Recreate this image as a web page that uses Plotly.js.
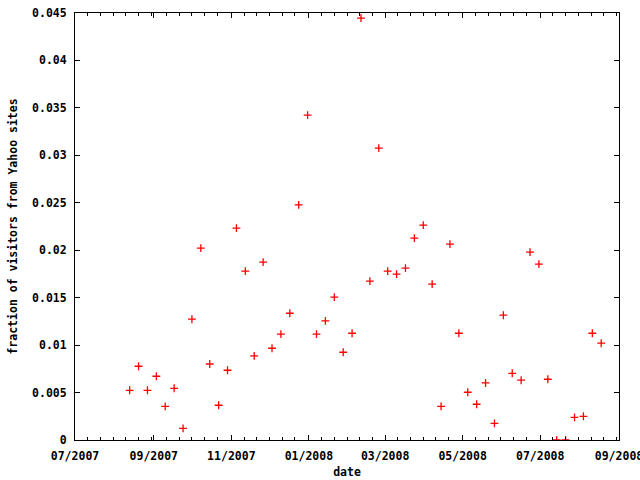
<!DOCTYPE html>
<html>
<head>
<meta charset="utf-8">
<script src="https://cdn.plot.ly/plotly-3.0.1.min.js"></script>
<style>html,body{margin:0;padding:0;background:#fff;}#chart{width:640px;height:480px;}</style>
</head>
<body>
<div id="chart"></div>
<script>
// Weekly observations
var dates = [
  '2007-08-13','2007-08-20','2007-08-27','2007-09-03','2007-09-10','2007-09-17','2007-09-24',
  '2007-10-01','2007-10-08','2007-10-15','2007-10-22','2007-10-29',
  '2007-11-05','2007-11-12','2007-11-19','2007-11-26',
  '2007-12-03','2007-12-10','2007-12-17','2007-12-24','2007-12-31',
  '2008-01-07','2008-01-14','2008-01-21','2008-01-28',
  '2008-02-04','2008-02-11','2008-02-18','2008-02-25',
  '2008-03-03','2008-03-10','2008-03-17','2008-03-24','2008-03-31',
  '2008-04-07','2008-04-14','2008-04-21','2008-04-28',
  '2008-05-05','2008-05-12','2008-05-19','2008-05-26',
  '2008-06-02','2008-06-09','2008-06-16','2008-06-23','2008-06-30',
  '2008-07-07','2008-07-14','2008-07-21','2008-07-28',
  '2008-08-04','2008-08-11','2008-08-18'
];
var fractionYahoo = [
  0.00524, 0.00777, 0.00524, 0.00672, 0.00355, 0.00545, 0.00123,
  0.01273, 0.02022, 0.00801, 0.00366, 0.00735,
  0.02233, 0.01779, 0.00886, 0.01874,
  0.00967, 0.01115, 0.01336, 0.02478, 0.03424,
  0.01115, 0.01255, 0.01505, 0.00925,
  0.01125, 0.04447, 0.01674, 0.03076,
  0.01779, 0.01748, 0.01811, 0.02127, 0.02264,
  0.01642, 0.00355, 0.02064, 0.01125,
  0.00503, 0.00377, 0.00601, 0.00176,
  0.01315, 0.00703, 0.00630, 0.01980, 0.01853,
  0.00640, 0.00000, 0.00000, 0.00239,
  0.00250, 0.01125, 0.01020
];
var xTickVals = ['2007-07-01','2007-09-01','2007-11-01','2008-01-01','2008-03-01','2008-05-01','2008-07-01','2008-09-01'];
var xTickText = ['07/2007','09/2007','11/2007','01/2008','03/2008','05/2008','07/2008','09/2008'];
var xRange = ['2007-07-01','2008-09-01 00:01'];
var yRange = [0, 0.045];
var yTickStep = 0.005;

// minor ticks: every 10 days after each major tick
var minorVals = [];
for (var i = 0; i < xTickVals.length - 1; i++) {
  var start = new Date(xTickVals[i] + 'T00:00:00Z').getTime();
  var end = new Date(xTickVals[i + 1] + 'T00:00:00Z').getTime();
  for (var k = 1; k < 7; k++) {
    var t = start + k * 10 * 86400000;
    if (t < end - 86400000) minorVals.push(new Date(t).toISOString().slice(0, 10));
  }
}

var boldFont = {family: 'DejaVu Sans Mono, monospace', size: 11.5, color: '#000', weight: 'bold'};

var trace = {
  x: dates, y: fractionYahoo, type: 'scatter', mode: 'markers',
  marker: {symbol: 'cross-thin-open', size: 5.6, color: '#ff0000', line: {color: '#ff0000', width: 1.3}},
  hoverinfo: 'skip', showlegend: false
};
var dummy = {x: xRange, y: yRange, xaxis: 'x2', yaxis: 'y', mode: 'none', type: 'scatter', showlegend: false, hoverinfo: 'skip'};

var layout = {
  width: 640, height: 480,
  margin: {l: 75, r: 21, t: 13, b: 40},
  paper_bgcolor: '#fff', plot_bgcolor: '#fff',
  font: boldFont,
  xaxis: {
    type: 'date', range: xRange, tickmode: 'array', tickvals: xTickVals, ticktext: xTickText,
    ticks: 'inside', ticklen: 5, tickwidth: 1, tickcolor: '#000', ticklabelstandoff: 5,
    ticklabeloverflow: 'allow',
    showline: true, linecolor: '#000', linewidth: 1, mirror: 'ticks',
    showgrid: false, zeroline: false, tickfont: boldFont,
    title: {text: 'date', font: boldFont, standoff: 6}
  },
  xaxis2: {
    type: 'date', range: xRange, overlaying: 'x', tickmode: 'array', tickvals: minorVals,
    ticks: 'inside', ticklen: 3, tickwidth: 1, tickcolor: '#000',
    showticklabels: false, showline: false, mirror: 'ticks', showgrid: false, zeroline: false
  },
  yaxis: {
    range: yRange, dtick: yTickStep, tick0: 0,
    ticks: 'inside', ticklen: 5, tickwidth: 1, tickcolor: '#000', ticklabelstandoff: 5,
    showline: true, linecolor: '#000', linewidth: 1, mirror: 'ticks',
    showgrid: false, zeroline: false, tickfont: boldFont,
    title: {text: 'fraction of visitors from Yahoo sites', font: boldFont, standoff: 12}
  }
};
Plotly.newPlot('chart', [dummy, trace], layout, {staticPlot: true});
</script>
</body>
</html>
